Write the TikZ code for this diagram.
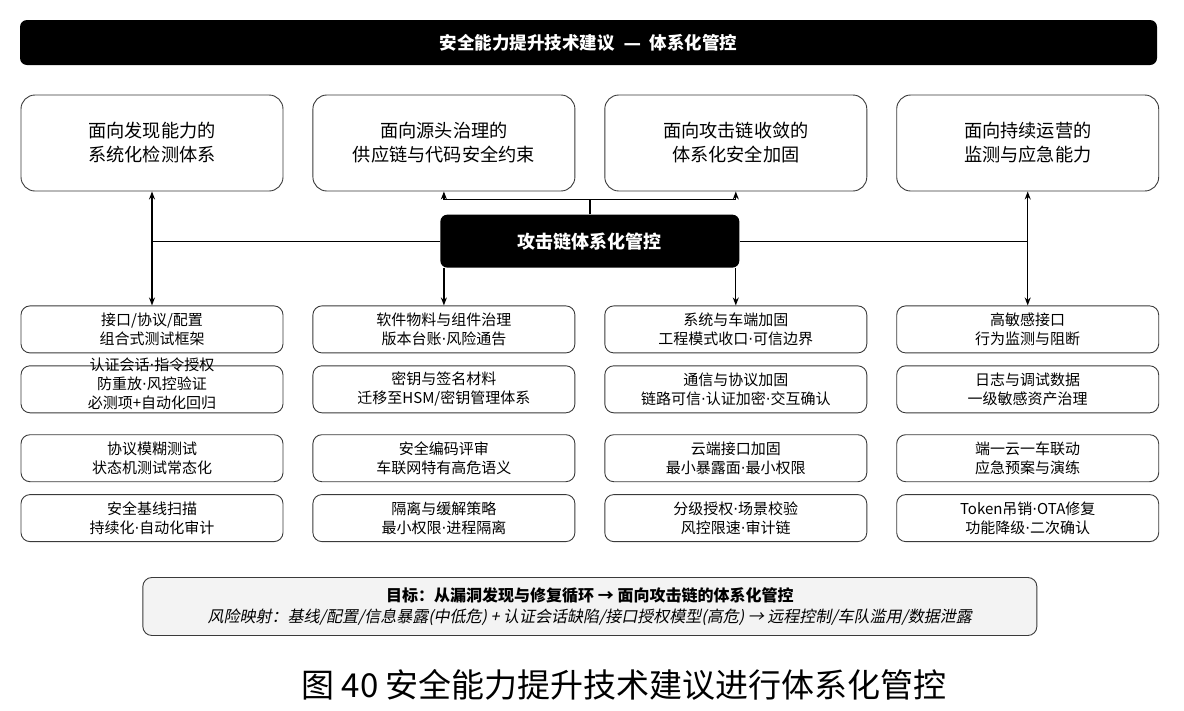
\documentclass[tikz,border=0pt]{standalone}
\usepackage{fontspec}
\setmainfont{Noto Sans CJK SC}
\newfontfamily\slantcjk{Noto Sans CJK SC}[FakeSlant=0.2]
\newfontfamily\symfont{DejaVu Sans}
\newcommand\midpt{{\symfont ·}}
\usepackage{tikz}
\usetikzlibrary{arrows.meta,positioning,calc}
\usepackage{xcolor}
\definecolor{edgegray}{HTML}{3A3A3A}
\definecolor{goalgray}{HTML}{F3F3F3}

\begin{document}
\begin{tikzpicture}[
  node distance=12pt and 29pt,
  every node/.style={align=center, inner sep=0pt},
  capbox/.style={draw=edgegray, line width=0.9pt, rounded corners=14pt, minimum width=262pt, minimum height=96pt, font=\fontsize{18.2}{24}\selectfont},
  itembox/.style={draw=edgegray, line width=0.9pt, rounded corners=9pt, minimum width=262pt, minimum height=47pt, font=\fontsize{15}{19}\selectfont},
  darkbox/.style={fill=black, text=white, rounded corners=7pt, font=\bfseries\fontsize{18}{22}\selectfont},
  arr/.style={-{Stealth[length=8pt, width=6pt]}, line width=1.3pt},
  arrs/.style={{Stealth[length=8pt, width=6pt]}-{Stealth[length=8pt, width=6pt]}, line width=1.3pt},
]
  \useasboundingbox (0,0) rectangle (1184pt,-710pt);

  % Title bar
  \node[darkbox, minimum width=1137pt, minimum height=45pt, font=\bfseries\fontsize{17.5}{20}\selectfont] (title) at (588.5pt,-42.5pt) {安全能力提升技术建议\hspace{0.5em}{\symfont —}\hspace{0.5em}体系化管控};

  % Four directions
  \node[capbox] (h1) at (152pt,-143pt) {面向发现能力的\\系统化检测体系};
  \node[capbox, right=29pt of h1] (h2) {面向源头治理的\\供应链与代码安全约束};
  \node[capbox, right=29pt of h2] (h3) {面向攻击链收敛的\\体系化安全加固};
  \node[capbox, right=29pt of h3] (h4) {面向持续运营的\\监测与应急能力};

  % Hub
  \node[darkbox, minimum width=299pt, minimum height=53pt, below=23pt of $(h2.south)!0.5!(h3.south)$] (hub) {攻击链体系化管控};

  % Column 1
  \node[itembox, below=114pt of h1] (a1) {接口/协议/配置\\组合式测试框架};
  \node[itembox, below=of a1] (a2) {\smash{\begin{tabular}{@{}c@{}}认证会话\midpt 指令授权\\防重放\midpt 风控验证\\必测项+自动化回归\end{tabular}}};
  \node[itembox, below=21pt of a2] (a3) {协议模糊测试\\状态机测试常态化};
  \node[itembox, below=of a3] (a4) {安全基线扫描\\持续化\midpt 自动化审计};

  % Column 2
  \node[itembox, right=of a1] (b1) {软件物料与组件治理\\版本台账\midpt 风险通告};
  \node[itembox, right=of a2] (b2) {密钥与签名材料\\迁移至HSM/密钥管理体系};
  \node[itembox, right=of a3] (b3) {安全编码评审\\车联网特有高危语义};
  \node[itembox, right=of a4] (b4) {隔离与缓解策略\\最小权限\midpt 进程隔离};

  % Column 3
  \node[itembox, right=of b1] (c1) {系统与车端加固\\工程模式收口\midpt 可信边界};
  \node[itembox, right=of b2] (c2) {通信与协议加固\\链路可信\midpt 认证加密\midpt 交互确认};
  \node[itembox, right=of b3] (c3) {云端接口加固\\最小暴露面\midpt 最小权限};
  \node[itembox, right=of b4] (c4) {分级授权\midpt 场景校验\\风控限速\midpt 审计链};

  % Column 4
  \node[itembox, right=of c1] (d1) {高敏感接口\\行为监测与阻断};
  \node[itembox, right=of c2] (d2) {日志与调试数据\\一级敏感资产治理};
  \node[itembox, right=of c3] (d3) {端一云一车联动\\应急预案与演练};
  \node[itembox, right=of c4] (d4) {Token吊销\midpt OTA修复\\功能降级\midpt 二次确认};

  % Goal
  \node[draw=edgegray, line width=0.9pt, fill=goalgray, rounded corners=9pt, minimum width=894pt, minimum height=58pt, font=\fontsize{16}{21}\selectfont, below=35pt of $(b4.south)!0.5!(c4.south)$] (goal) {{\bfseries 目标：从漏洞发现与修复循环 → 面向攻击链的体系化管控}\\{\slantcjk 风险映射：基线/配置/信息暴露(中低危) + 认证会话缺陷/接口授权模型(高危) → 远程控制/车队滥用/数据泄露}};

  % Caption
  \node[font=\fontsize{33}{38}\selectfont] (cap) at (624pt,-685pt) {图 40 安全能力提升技术建议进行体系化管控};

  % Connectors
  \coordinate (fork) at ($(hub.north)+(0,15pt)$);
  \draw[line width=1.3pt] (hub.north) -- (fork);
  \draw[arr] (fork) -| (h2.south);
  \draw[arr] (fork) -| (h3.south);
  \draw[arr] (h2.south |- hub.south) -- (b1.north);
  \draw[arr] (h3.south |- hub.south) -- (c1.north);
  \draw[arrs] (h1.south) -- (a1.north);
  \draw[arrs] (h4.south) -- (d1.north);
  \draw[line width=1.3pt] (hub.west) -- (hub.west -| h1.south);
  \draw[line width=1.3pt] (hub.east) -- (hub.east -| h4.south);
\end{tikzpicture}
\end{document}
